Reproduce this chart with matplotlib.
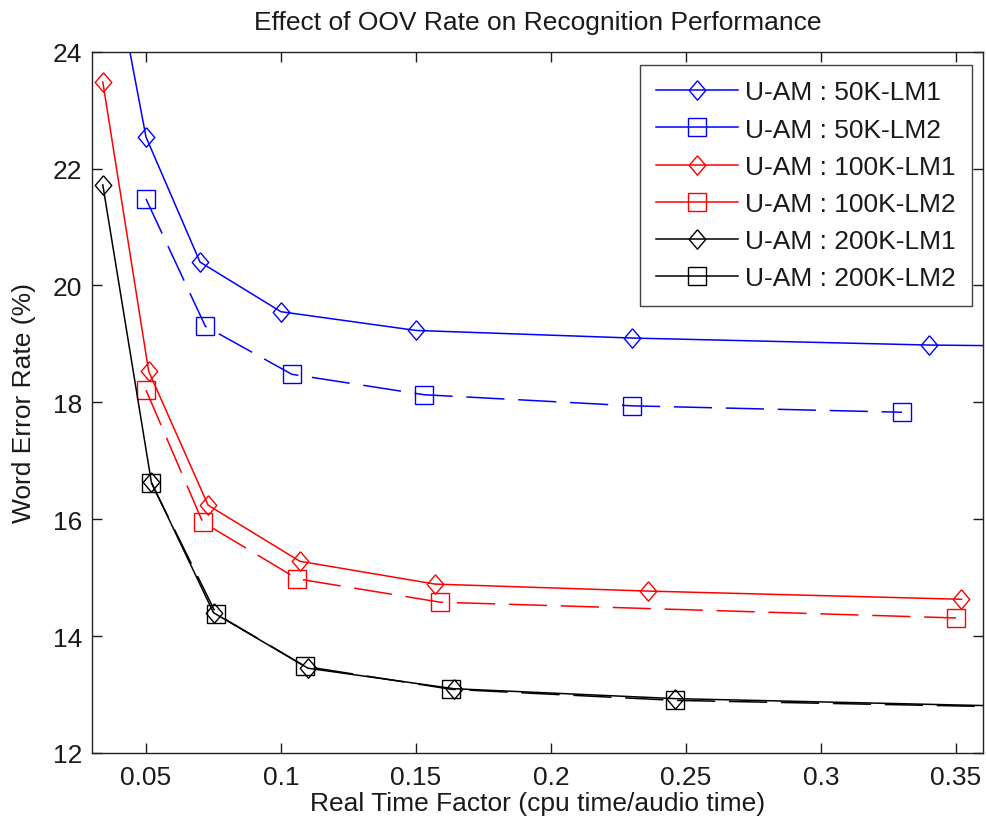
"""Effect of OOV rate on recognition performance (WER vs real time factor)."""

import matplotlib
matplotlib.use("Agg")
import matplotlib.pyplot as plt
from matplotlib.lines import Line2D
from matplotlib.ticker import FormatStrFormatter

# ---- data -----------------------------------------------------------------
rtf_50k_lm1 = [0.035, 0.050, 0.070, 0.100, 0.150, 0.230, 0.340, 0.450]
wer_50k_lm1 = [26.2, 22.54, 20.40, 19.55, 19.23, 19.10, 18.98, 18.93]

rtf_50k_lm2 = [0.050, 0.072, 0.104, 0.153, 0.230, 0.330]
wer_50k_lm2 = [21.48, 19.30, 18.48, 18.13, 17.94, 17.83]

rtf_100k_lm1 = [0.034, 0.051, 0.073, 0.107, 0.157, 0.236, 0.352]
wer_100k_lm1 = [23.48, 18.53, 16.24, 15.28, 14.89, 14.77, 14.63]

rtf_100k_lm2 = [0.050, 0.071, 0.106, 0.159, 0.350]
wer_100k_lm2 = [18.21, 15.95, 14.98, 14.58, 14.31]

rtf_200k_lm1 = [0.034, 0.052, 0.075, 0.110, 0.164, 0.246, 0.400]
wer_200k_lm1 = [21.72, 16.63, 14.40, 13.45, 13.10, 12.93, 12.77]

rtf_200k_lm2 = [0.052, 0.076, 0.109, 0.163, 0.246, 0.400]
wer_200k_lm2 = [16.62, 14.38, 13.48, 13.09, 12.90, 12.76]

labels = ["U-AM : 50K-LM1", "U-AM : 50K-LM2", "U-AM : 100K-LM1",
          "U-AM : 100K-LM2", "U-AM : 200K-LM1", "U-AM : 200K-LM2"]

BLUE = "#0000FF"
RED = "#FF0000"
BLACK = "#000000"
TXT = "#1a1a1a"
FS = 19

# MATLAB-ish tall diamond
DIAMOND = [(0, 1), (0.85, 0), (0, -1), (-0.85, 0), (0, 1)]
DASH = (0, (25, 9))

plt.rcParams["font.family"] = ["Liberation Sans", "DejaVu Sans"]

fig = plt.figure(figsize=(9.86, 8.28), dpi=100, facecolor="white")
ax = fig.add_axes([0.0933, 0.0894, 0.9037, 0.847])

series = [
    (rtf_50k_lm1, wer_50k_lm1, BLUE, DIAMOND, "-", 14),
    (rtf_50k_lm2, wer_50k_lm2, BLUE, "s", DASH, 12.5),
    (rtf_100k_lm1, wer_100k_lm1, RED, DIAMOND, "-", 14),
    (rtf_100k_lm2, wer_100k_lm2, RED, "s", DASH, 12.5),
    (rtf_200k_lm1, wer_200k_lm1, BLACK, DIAMOND, "-", 14),
    (rtf_200k_lm2, wer_200k_lm2, BLACK, "s", DASH, 12.5),
]

handles = []
for (x, y, c, m, ls, ms), lab in zip(series, labels):
    ax.plot(x, y, color=c, lw=1.1, ls=ls, marker=m, ms=ms,
            mfc="none", mec=c, mew=1.0)
    handles.append(Line2D([], [], color=c, lw=1.1, ls="-", marker=m, ms=ms,
                          mfc="none", mec=c, mew=1.0, label=lab))

ax.set_xlim(0.03, 0.36)
ax.set_ylim(12, 24)
ax.set_xticks([0.05, 0.1, 0.15, 0.2, 0.25, 0.3, 0.35])
ax.set_yticks([12, 14, 16, 18, 20, 22, 24])
ax.xaxis.set_major_formatter(FormatStrFormatter("%g"))
ax.yaxis.set_major_formatter(FormatStrFormatter("%g"))
ax.tick_params(direction="in", length=7, width=1, top=True, right=True,
               labelsize=FS, colors=TXT, pad=7)
ax.tick_params(axis="x", pad=9)
for sp in ax.spines.values():
    sp.set_linewidth(1.0)
    sp.set_color("#222222")

ax.set_xlabel("Real Time Factor (cpu time/audio time)", fontsize=FS,
              color=TXT, labelpad=1)
ax.set_ylabel("Word Error Rate (%)", fontsize=FS, color=TXT, labelpad=12)
ax.set_title("Effect of OOV Rate on Recognition Performance", fontsize=FS,
             color=TXT, pad=16)

leg = ax.legend(handles=handles, loc="upper right",
                bbox_to_anchor=(0.9877, 0.9815), fontsize=FS,
                frameon=True, fancybox=False, handlelength=3.1,
                handletextpad=0.3, labelspacing=0.5, borderpad=0.6,
                borderaxespad=0)
leg.get_frame().set_edgecolor("#111111")
leg.get_frame().set_linewidth(1.0)
for t in leg.get_texts():
    t.set_color(TXT)

fig.savefig("out.png", dpi=100, facecolor="white")
